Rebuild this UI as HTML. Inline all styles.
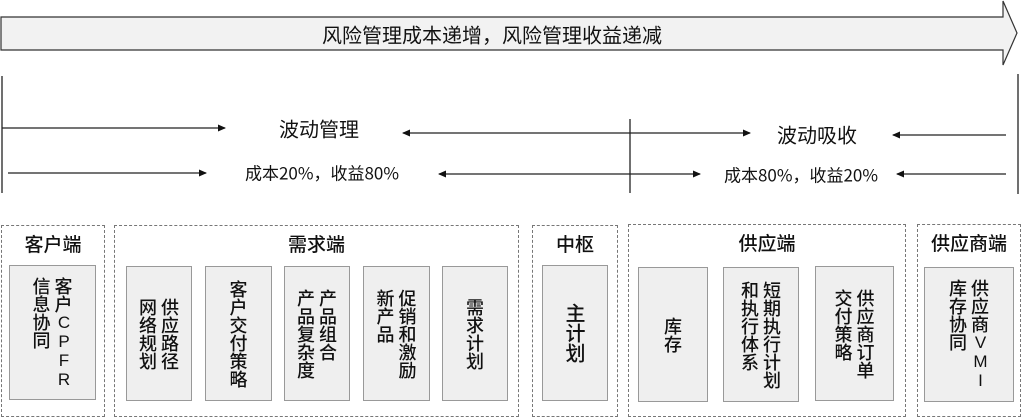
<!DOCTYPE html>
<html><head><meta charset="utf-8"><style>
body{margin:0;width:1024px;height:418px;background:#fff;position:relative;overflow:hidden;font-family:"Liberation Sans","Noto Sans CJK SC",sans-serif;color:#111}
.t{position:absolute;white-space:nowrap;transform:translate(-50%,-50%);font-family:"Noto Sans CJK SC",sans-serif}
.g{position:absolute;border:1.3px dashed #777;box-sizing:border-box}
.g .h{position:absolute;left:0;right:0;top:4px;text-align:center;font-size:19px;font-family:"Noto Sans CJK SC",sans-serif;font-weight:500}
.b{position:absolute;background:#efefef;border:1.3px solid #999;box-sizing:border-box;display:flex;align-items:center;justify-content:center}
.v{writing-mode:vertical-rl;text-orientation:upright;font-size:18px;line-height:22px;font-family:"Noto Sans CJK SC",sans-serif;font-weight:500;white-space:nowrap}
.l{font-family:"Liberation Sans",sans-serif;font-size:17px;line-height:17px;display:inline-block}
</style></head><body>
<svg width="1024" height="418" style="position:absolute;left:0;top:0">
<defs><marker id="a" markerWidth="8" markerHeight="8" refX="7" refY="4" orient="auto" markerUnits="userSpaceOnUse"><path d="M0,0.5 L8,4 L0,7.5 Z" fill="#111"/></marker></defs>
<polygon points="1,17 1003,17 1003,1 1017,33 1003,65 1003,50 1,50" fill="#f2f2f2" stroke="#333" stroke-width="1.2"/>
<g stroke="#222" stroke-width="1.3">
<line x1="2" y1="76" x2="2" y2="193"/>
<line x1="1018" y1="74" x2="1018" y2="194"/>
<line x1="630" y1="119" x2="630" y2="193"/>
<line x1="2" y1="128" x2="225" y2="128" marker-end="url(#a)"/>
<line x1="630" y1="133" x2="403" y2="133" marker-end="url(#a)"/>
<line x1="630" y1="133" x2="750" y2="133" marker-end="url(#a)"/>
<line x1="1006" y1="135" x2="893" y2="135" marker-end="url(#a)"/>
<line x1="8" y1="173" x2="206" y2="173" marker-end="url(#a)"/>
<line x1="630" y1="174" x2="439" y2="174" marker-end="url(#a)"/>
<line x1="630" y1="174" x2="700" y2="174" marker-end="url(#a)"/>
<line x1="1006" y1="174" x2="897" y2="174" marker-end="url(#a)"/>
</g>
</svg>
<div class="t" style="left:492px;top:34px;font-size:20px">风险管理成本递增，风险管理收益递减</div>
<div class="t" style="left:319px;top:128px;font-size:20px">波动管理</div>
<div class="t" style="left:817px;top:134px;font-size:20px">波动吸收</div>
<div class="t" style="left:322px;top:172px;font-size:17px">成本20%，收益80%</div>
<div class="t" style="left:801px;top:174px;font-size:17px">成本80%，收益20%</div>

<div class="g" style="left:1px;top:225px;width:104px;height:192px"><div class="h">客户端</div></div>
<div class="g" style="left:114px;top:225px;width:405px;height:192px"><div class="h">需求端</div></div>
<div class="g" style="left:532px;top:225px;width:86px;height:192px"><div class="h">中枢</div></div>
<div class="g" style="left:628px;top:224px;width:278px;height:193px"><div class="h">供应端</div></div>
<div class="g" style="left:917px;top:224px;width:104px;height:193px"><div class="h">供应商端</div></div>

<div class="b" style="left:9px;top:265px;width:87px;height:135px"><div class="v">客户<span class="l">CPFR</span><br>信息协同</div></div>
<div class="b" style="left:126px;top:266px;width:66px;height:135px"><div class="v">供应路径<br>网络规划</div></div>
<div class="b" style="left:205px;top:266px;width:67px;height:135px"><div class="v">客户交付策略</div></div>
<div class="b" style="left:284px;top:266px;width:66px;height:135px"><div class="v">产品组合<br>产品复杂度</div></div>
<div class="b" style="left:363px;top:266px;width:67px;height:135px"><div class="v">促销和激励<br>新产品</div></div>
<div class="b" style="left:442px;top:266px;width:66px;height:135px"><div class="v">需求计划</div></div>
<div class="b" style="left:542px;top:265px;width:66px;height:136px"><div class="v" style="font-size:20px;line-height:26px">主计划</div></div>
<div class="b" style="left:638px;top:267px;width:70px;height:135px"><div class="v">库存</div></div>
<div class="b" style="left:723px;top:267px;width:76px;height:135px"><div class="v">短期执行计划<br>和执行体系</div></div>
<div class="b" style="left:815px;top:266px;width:79px;height:135px"><div class="v">供应商订单<br>交付策略</div></div>
<div class="b" style="left:924px;top:267px;width:90px;height:135px"><div class="v">供应商<span class="l">VMI</span><br>库存协同</div></div>
</body></html>
